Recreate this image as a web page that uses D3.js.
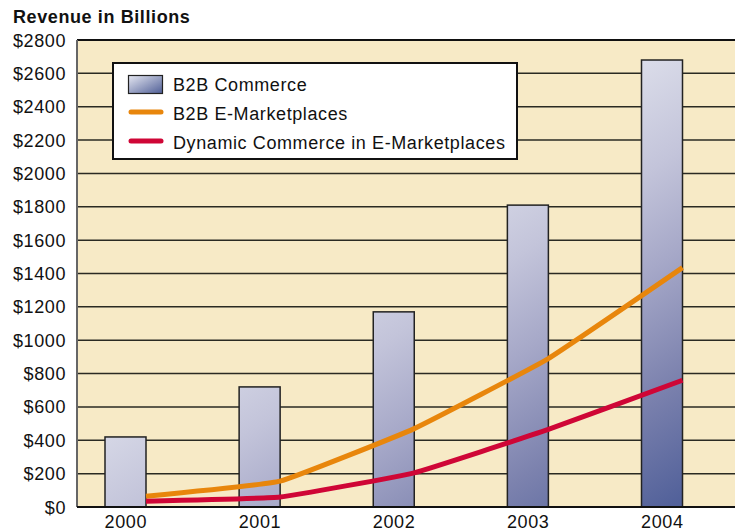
<!DOCTYPE html>
<meta charset="utf-8">
<script src="https://cdn.jsdelivr.net/npm/d3@7"></script>
<style>
  body { margin: 0; background: #fff; }
  svg text { font-family: Arial, "Liberation Sans", Helvetica, sans-serif; fill: #111; letter-spacing: 0.6px; }
</style>
<svg></svg>
<script>
    var years = ['2000', '2001', '2002', '2003', '2004'];
    var b2bCommerce = [420, 720, 1170, 1810, 2680];
    var b2bMarketplaces = [65, 155, 470, 890, 1435];
    var dynamicCommerce = [35, 60, 205, 465, 760];
    var yTicks = [0, 200, 400, 600, 800, 1000, 1200, 1400, 1600, 1800, 2000, 2200, 2400, 2600, 2800];
    var seriesNames = ['B2B Commerce', 'B2B E-Marketplaces', 'Dynamic Commerce in E-Marketplaces'];

    var W = 735, H = 532;
    var plotLeft = 77, plotTop = 40, plotBottom = 507, plotRight = 745;
    var barW = 41;

    var svg = d3.select('svg').attr('width', W).attr('height', H);

    var x = d3.scalePoint().domain(years).range([125.5, 662]);
    var y = d3.scaleLinear().domain([0, 2800]).range([plotBottom, plotTop]);

    var defs = svg.append('defs');
    // bar gradient, laid out across the plot so short bars stay light
    var grad = defs.append('linearGradient')
        .attr('id', 'barGrad')
        .attr('gradientUnits', 'userSpaceOnUse')
        .attr('x1', 620).attr('y1', 40)
        .attr('x2', 848).attr('y2', 391);
    [[0, '#e2e4ee'], [0.3, '#c3c4da'], [0.5, '#a6a8c8'], [0.75, '#7c82ae'], [1, '#52619a']]
        .forEach(s => grad.append('stop').attr('offset', s[0]).attr('stop-color', s[1]));
    var lgrad = defs.append('linearGradient').attr('id', 'legGrad')
        .attr('x1', 0).attr('y1', 0).attr('x2', 1).attr('y2', 1);
    lgrad.append('stop').attr('offset', 0).attr('stop-color', '#e6e8f2');
    lgrad.append('stop').attr('offset', 1).attr('stop-color', '#4f5e96');

    // plot background
    svg.append('rect')
        .attr('x', plotLeft).attr('y', plotTop)
        .attr('width', plotRight - plotLeft).attr('height', plotBottom - plotTop)
        .attr('fill', '#f7eac6');

    // gridlines
    svg.append('g').selectAll('line').data(yTicks.filter(d => d > 0 && d < 2800)).enter().append('line')
        .attr('x1', plotLeft).attr('x2', plotRight)
        .attr('y1', d => y(d)).attr('y2', d => y(d))
        .attr('stroke', '#2a2a22').attr('stroke-width', 1.5);

    // frame
    svg.append('line').attr('x1', plotLeft).attr('x2', plotRight).attr('y1', y(2800)).attr('y2', y(2800))
        .attr('stroke', '#111').attr('stroke-width', 2);
    svg.append('line').attr('x1', plotLeft).attr('x2', plotLeft).attr('y1', plotTop).attr('y2', plotBottom)
        .attr('stroke', '#666').attr('stroke-width', 2);

    // bars
    svg.append('g').selectAll('rect').data(b2bCommerce).enter().append('rect')
        .attr('x', (d, i) => x(years[i]) - barW / 2)
        .attr('y', d => y(d))
        .attr('width', barW)
        .attr('height', d => y(0) - y(d))
        .attr('fill', 'url(#barGrad)')
        .attr('stroke', '#222').attr('stroke-width', 1.5);

    // baseline
    svg.append('line').attr('x1', plotLeft).attr('x2', plotRight).attr('y1', y(0)).attr('y2', y(0))
        .attr('stroke', '#111').attr('stroke-width', 2);

    // lines, anchored at the right edge of each bar
    var line = d3.line()
        .x((d, i) => x(years[i]) + barW / 2)
        .y(d => y(d))
        .curve(d3.curveCardinal.tension(0.7));
    svg.append('path').datum(b2bMarketplaces)
        .attr('d', line).attr('fill', 'none')
        .attr('stroke', '#e8860c').attr('stroke-width', 5);
    svg.append('path').datum(dynamicCommerce)
        .attr('d', line).attr('fill', 'none')
        .attr('stroke', '#cf0636').attr('stroke-width', 5);

    // y axis labels
    svg.append('g').selectAll('text').data(yTicks).enter().append('text')
        .attr('x', 66).attr('y', d => y(d) + 6.5)
        .attr('text-anchor', 'end')
        .style('font-size', '18px')
        .text(d => '$' + d);

    // x axis labels
    svg.append('g').selectAll('text').data(years).enter().append('text')
        .attr('x', d => x(d) + 0.3).attr('y', 528)
        .attr('text-anchor', 'middle')
        .style('font-size', '18px')
        .text(d => d);

    // title
    svg.append('text').attr('x', 13).attr('y', 23)
        .style('font-size', '18px').style('font-weight', 'bold')
        .text('Revenue in Billions');

    // legend
    var lg = svg.append('g');
    lg.append('rect').attr('x', 113).attr('y', 63).attr('width', 404).attr('height', 96)
        .attr('fill', '#fff').attr('stroke', '#111').attr('stroke-width', 2);
    lg.append('rect').attr('x', 128.5).attr('y', 75.5).attr('width', 34).attr('height', 18)
        .attr('fill', 'url(#legGrad)').attr('stroke', '#222').attr('stroke-width', 1.2);
    lg.append('line').attr('x1', 131).attr('x2', 161).attr('y1', 112).attr('y2', 112)
        .attr('stroke', '#e8860c').attr('stroke-width', 5).attr('stroke-linecap', 'round');
    lg.append('line').attr('x1', 131).attr('x2', 161).attr('y1', 141).attr('y2', 141)
        .attr('stroke', '#cf0636').attr('stroke-width', 5).attr('stroke-linecap', 'round');
    lg.selectAll('text.item').data(seriesNames).enter().append('text')
        .attr('class', 'item')
        .attr('x', 173).attr('y', (d, i) => 91 + i * 29)
        .style('font-size', '18px')
        .text(d => d);
</script>
